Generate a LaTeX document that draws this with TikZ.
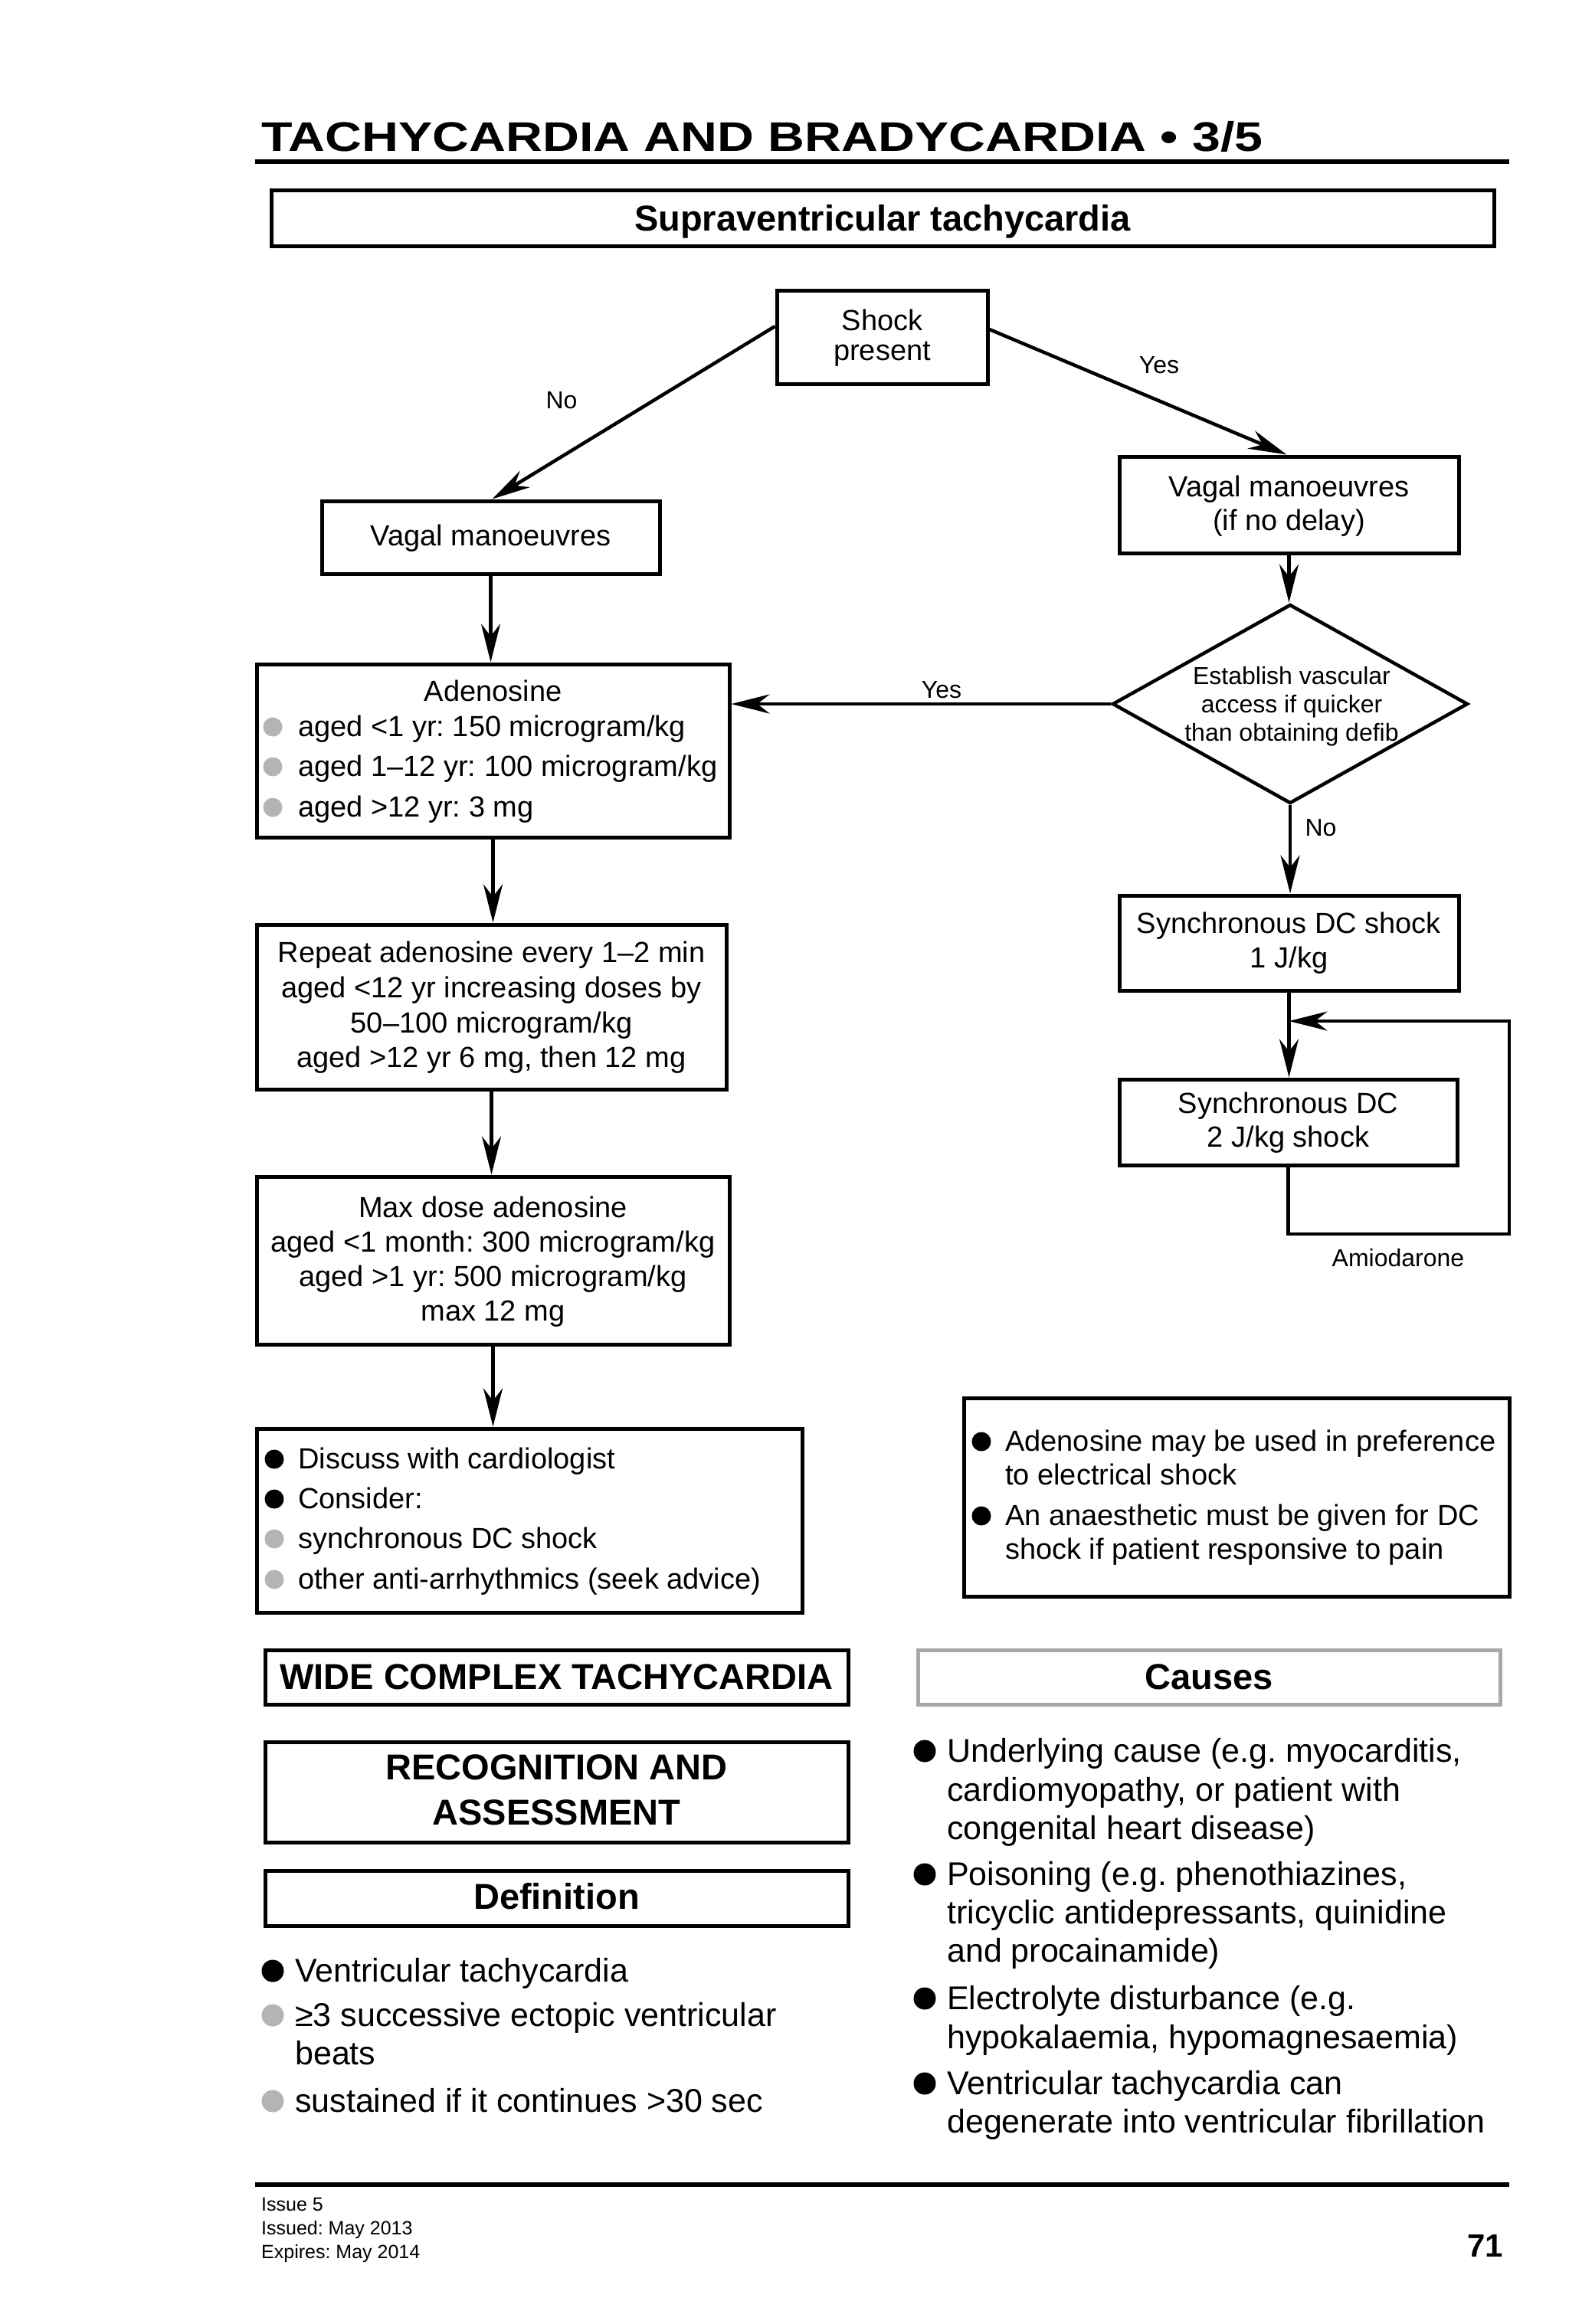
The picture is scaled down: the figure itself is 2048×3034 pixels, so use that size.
\documentclass[tikz,border=0pt]{standalone}
\usepackage{fontspec}
\setmainfont{Liberation Sans}
\usepackage{graphicx}
\usetikzlibrary{arrows.meta,shapes.geometric,calc}
\definecolor{bgrey}{HTML}{B4B4B4}
\definecolor{cgrey}{HTML}{A8A8A8}
\frenchspacing
\tikzset{
 box/.style={draw=black, line width=5pt, inner sep=0pt},
 t38/.style={inner sep=0pt, anchor=base, font=\fontsize{38}{45}\selectfont},
 t38l/.style={t38, anchor=base west},
 t32/.style={inner sep=0pt, anchor=base, font=\fontsize{32}{37}\selectfont},
 t43l/.style={inner sep=0pt, anchor=base west, font=\fontsize{43}{50}\selectfont},
 t25l/.style={inner sep=0pt, anchor=base west, font=\fontsize{25}{30}\selectfont},
 hd/.style={inner sep=0pt, anchor=base, font=\fontsize{47}{56}\selectfont\bfseries},
 arr/.style={line width=4.5pt, -{Stealth[length=50pt,width=25pt,inset=16pt]}},
 conn/.style={line width=4.5pt, line join=miter},
 gb/.style={fill=bgrey},
 bb/.style={fill=black},
}
\newcommand\bx[6][]{\node[box,#1, minimum width={#5-#3}, minimum height={#6-#4}] (#2) at ({(#3+#5)/2},{(#4+#6)/2}) {};}
\begin{document}
\begin{tikzpicture}[x=1pt,y=-1pt]
\fill[white] (0,0) rectangle (2048,3034);
\useasboundingbox (0,0) rectangle (2048,3034);

% title and rules
\node[inner sep=0pt, anchor=base west] (title) at (341,197) {\scalebox{1.228}[1]{\fontsize{54}{60}\selectfont\bfseries TACHYCARDIA AND BRADYCARDIA • 3/5}};
\draw[line width=6pt] (333,211) -- (1970,211);
\draw[line width=6pt] (333,2852) -- (1970,2852);

% header box
\bx{supra}{354}{248}{1950}{321}
\node[hd] (supratxt) at (1152,301) {Supraventricular tachycardia};

% flowchart boxes
\bx{shock}{1014}{379}{1289}{501}
\bx{lvagal}{420}{654}{861}{749}
\bx{rvagal}{1461}{596}{1904}{722}
\node[draw, diamond, line width=4.5pt, inner sep=0pt, minimum width=464, minimum height=260] (diam) at (1684,919) {};
\bx{aden}{335}{867}{952}{1093}
\bx{rep}{335}{1207}{948}{1422}
\bx{maxd}{335}{1536}{952}{1755}
\bx{disc}{335}{1865}{1047}{2105}
\bx{note}{1258}{1825}{1970}{2084}
\bx{sync1}{1461}{1169}{1904}{1293}
\bx{sync2}{1461}{1409}{1902}{1521}

% texts in flowchart
\node[t38] (shock1) at (1151.5,431) {Shock};
\node[t38] (shock2) at (1151.5,470) {present};
\node[t38] (lvag1) at (640.5,712) {Vagal manoeuvres};
\node[t38] (rvag1) at (1682.5,648) {Vagal manoeuvres};
\node[t38] (rvag2) at (1682.5,692) {(if no delay)};
\node[t32] (diam1) at (1686,893) {Establish vascular};
\node[t32] (diam2) at (1686,930) {access if quicker};
\node[t32] (diam3) at (1686,967) {than obtaining defib};
\node[t38] (aden0) at (643.5,915) {Adenosine};
\fill[gb] (356,949) circle (12.5);
\fill[gb] (356,1001) circle (12.5);
\fill[gb] (356,1054) circle (12.5);
\node[t38l] (aden1) at (389,961) {aged <1 yr: 150 microgram/kg};
\node[t38l] (aden2) at (389,1013) {aged 1–12 yr: 100 microgram/kg};
\node[t38l] (aden3) at (389,1066) {aged >12 yr: 3 mg};
\node[t38] (rep1) at (641.5,1256) {Repeat adenosine every 1–2 min};
\node[t38] (rep2) at (641.5,1302) {aged <12 yr increasing doses by};
\node[t38] (rep3) at (641.5,1348) {50–100 microgram/kg};
\node[t38] (rep4) at (641.5,1393) {aged >12 yr 6 mg, then 12 mg};
\node[t38] (max1) at (643.5,1589) {Max dose adenosine};
\node[t38] (max2) at (643.5,1634) {aged <1 month: 300 microgram/kg};
\node[t38] (max3) at (643.5,1679) {aged >1 yr: 500 microgram/kg};
\node[t38] (max4) at (643.5,1724) {max 12 mg};
\fill[bb] (358,1905) circle (12.5);
\fill[bb] (358,1957) circle (12.5);
\fill[gb] (358,2009) circle (12.5);
\fill[gb] (358,2062) circle (12.5);
\node[t38l] (disc1) at (389,1917) {Discuss with cardiologist};
\node[t38l] (disc2) at (389,1969) {Consider:};
\node[t38l] (disc3) at (389,2021) {synchronous DC shock};
\node[t38l] (disc4) at (389,2074) {other anti-arrhythmics (seek advice)};
\fill[bb] (1281,1882) circle (12.5);
\fill[bb] (1281,1979) circle (12.5);
\node[t38l] (note1) at (1312,1894) {Adenosine may be used in preference};
\node[t38l] (note2) at (1312,1938) {to electrical shock};
\node[t38l] (note3) at (1312,1991) {An anaesthetic must be given for DC};
\node[t38l] (note4) at (1312,2035) {shock if patient responsive to pain};
\node[t38] (sync1a) at (1682.5,1218) {Synchronous DC shock};
\node[t38] (sync1b) at (1682.5,1263) {1 J/kg};
\node[t38] (sync2a) at (1681.5,1453) {Synchronous DC};
\node[t38] (sync2b) at (1681.5,1497) {2 J/kg shock};

% labels
\node[t32] (lno) at (733,533) {No};
\node[t32] (lyes) at (1513,487) {Yes};
\node[t32] (lyes2) at (1229,911) {Yes};
\node[t32] (lno2) at (1724,1091) {No};
\node[t32] (lamio) at (1825,1653) {Amiodarone};

% connectors
\draw[arr] ($(shock.west)+(0,-14)$) -- ($(lvagal.north)+(2,0)$);
\draw[arr] ($(shock.east)+(0,-10)$) -- ($(rvagal.north)+(-3,0)$);
\draw[arr] (lvagal.south) -- (lvagal.south |- aden.north);
\draw[arr] (rvagal.south) -- (rvagal.south |- diam.north);
\draw[arr] (diam.west) -- (diam.west -| aden.east);
\draw[arr] (diam.south) -- (diam.south |- sync1.north);
\draw[arr] (aden.south) -- (aden.south |- rep.north);
\draw[arr] (rep.south) -- (rep.south |- maxd.north);
\draw[arr] (maxd.south) -- (maxd.south |- disc.north);
\draw[arr] (sync1.south) -- (sync1.south |- sync2.north);
\coordinate (lp2) at (1970,1611);
\coordinate (lp3) at (1970,1333);
\draw[conn, arr] (sync2.south) -- (sync2.south |- lp2) -- (lp2) -- (lp3) -- (lp3 -| sync1.south);

% lower section
\bx{wide}{346}{2154}{1107}{2225}
\node[hd] (widetxt) at (726.5,2205) {WIDE COMPLEX TACHYCARDIA};
\bx[draw=cgrey]{causes}{1198}{2154}{1958}{2225}
\node[hd] (causestxt) at (1578,2205) {Causes};
\bx{recog}{346}{2274}{1107}{2405}
\node[hd] (recog1) at (726.5,2323) {RECOGNITION AND};
\node[hd] (recog2) at (726.5,2382) {ASSESSMENT};
\bx{defn}{346}{2442}{1107}{2514}
\node[hd] (defntxt) at (726.5,2492) {Definition};

\fill[bb] (356,2573) circle (14.5);
\fill[gb] (356,2631) circle (14.5);
\fill[gb] (356,2743) circle (14.5);
\node[t43l] (def1) at (385,2587) {Ventricular tachycardia};
\node[t43l] (def2) at (385,2645) {≥3 successive ectopic ventricular};
\node[t43l] (def3) at (385,2695) {beats};
\node[t43l] (def4) at (385,2757) {sustained if it continues >30 sec};

\fill[bb] (1207,2286) circle (14.5);
\fill[bb] (1207,2447) circle (14.5);
\fill[bb] (1207,2609) circle (14.5);
\fill[bb] (1207,2720) circle (14.5);
\node[t43l] (c1) at (1236,2300) {Underlying cause (e.g. myocarditis,};
\node[t43l] (c2) at (1236,2351) {cardiomyopathy, or patient with};
\node[t43l] (c3) at (1236,2401) {congenital heart disease)};
\node[t43l] (c4) at (1236,2461) {Poisoning (e.g. phenothiazines,};
\node[t43l] (c5) at (1236,2511) {tricyclic antidepressants, quinidine};
\node[t43l] (c6) at (1236,2561) {and procainamide)};
\node[t43l] (c7) at (1236,2623) {Electrolyte disturbance (e.g.};
\node[t43l] (c8) at (1236,2674) {hypokalaemia, hypomagnesaemia)};
\node[t43l] (c9) at (1236,2734) {Ventricular tachycardia can};
\node[t43l] (c10) at (1236,2784) {degenerate into ventricular fibrillation};

% footer
\node[t25l] (f1) at (341,2886) {Issue 5};
\node[t25l] (f2) at (341,2917) {Issued: May 2013};
\node[t25l] (f3) at (341,2948) {Expires: May 2014};
\node[inner sep=0pt, anchor=base east, font=\fontsize{42}{48}\selectfont\bfseries] (pg) at (1962,2946) {71};
\end{tikzpicture}
\end{document}
